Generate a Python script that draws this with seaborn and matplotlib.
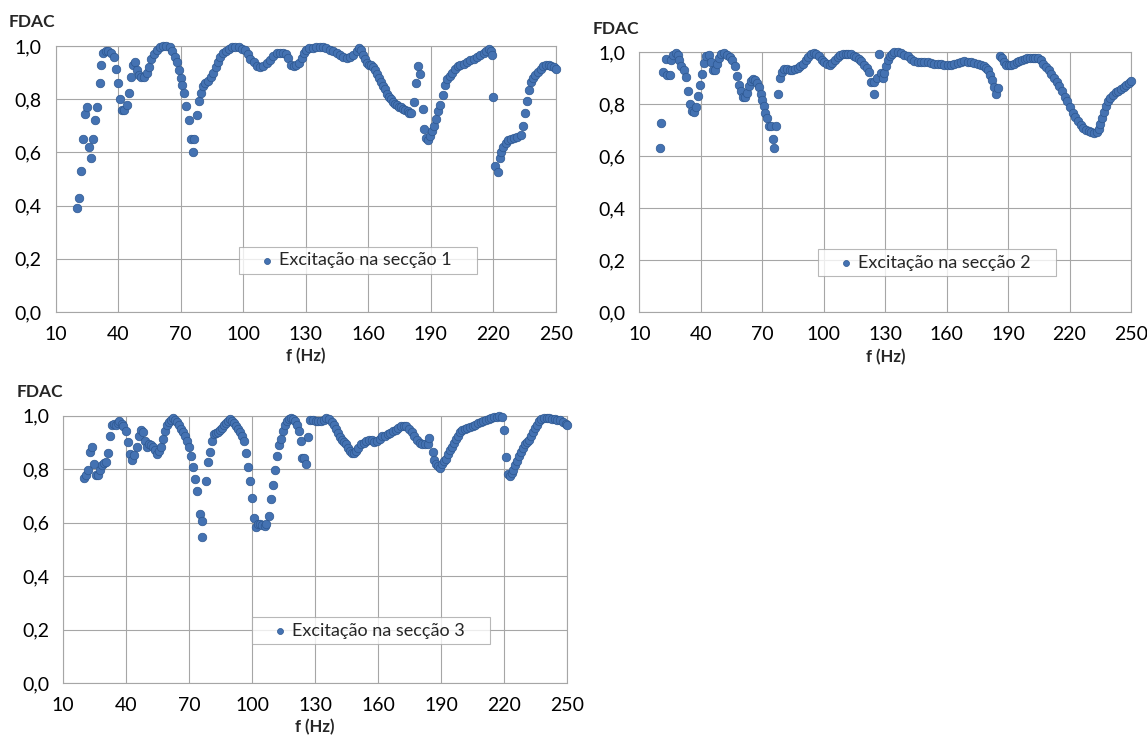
import matplotlib
matplotlib.use("Agg")
import matplotlib.pyplot as plt
from matplotlib.ticker import FuncFormatter, FixedLocator
import seaborn as sns
import pandas as pd

# ---------------- data ----------------
freq_s1 = [20.4, 21.2, 22.0, 23.2, 24.2, 25.2, 26.1, 27.2, 28.2, 29.1, 30.1, 31.1, 32.0, 33.0,
           34.0, 35.2, 36.5, 37.9, 39.0, 40.0, 41.0, 41.9, 43.0, 44.1, 45.1, 46.0, 47.0, 48.0,
           48.9, 49.9, 51.2, 52.4, 53.7, 54.7, 56.0, 57.2, 58.5, 60.0, 61.5, 63.1, 64.7, 66.0,
           67.1, 68.1, 69.0, 70.0, 70.8, 71.8, 72.7, 74.0, 74.8, 75.9, 76.4, 77.8, 78.9, 79.9,
           80.8, 81.8, 83.1, 84.4, 85.6, 86.9, 87.9, 89.1, 90.4, 91.7, 93.0, 94.6, 96.2, 97.8,
           99.4, 101.0, 102.2, 103.5, 105.1, 106.7, 108.0, 109.6, 111.2, 112.8, 114.4, 116.0,
           117.5, 119.1, 120.7, 121.7, 123.0, 124.2, 125.5, 126.8, 128.1, 129.4, 130.3,
           131.6, 133.5, 135.1, 136.7, 138.3, 139.9, 141.5, 143.2, 144.8, 146.4, 148.0, 149.6,
           151.2, 152.8, 154.4, 155.7, 156.6, 157.6, 158.6, 159.5, 160.5, 161.4, 162.4, 163.4,
           164.3, 165.3, 166.3, 167.2, 168.2, 169.1, 170.1, 171.1, 172.0, 173.0, 173.9, 174.9,
           175.9, 176.8, 177.8, 178.8, 179.7, 180.7, 182.0, 183.0, 183.9, 184.9, 186.0, 186.8,
           187.8, 188.7, 189.7, 190.6, 191.6, 192.6, 193.5, 194.5, 195.8, 196.7, 197.7, 199.0,
           200.3, 201.6, 202.8, 204.1, 205.7, 207.3, 208.9, 210.5, 212.1, 213.7, 215.4, 216.6,
           217.8, 218.6, 219.5, 219.8, 220.8, 222.1, 223.0, 223.8, 224.8, 225.9, 227.2, 228.5,
           229.8, 231.4, 233.0, 234.1, 235.1, 235.9, 237.0, 237.8, 238.8, 240.1, 241.3, 242.6,
           243.9, 245.2, 246.5, 247.7, 249.0, 250.0]
fdac_s1 = [0.39, 0.43, 0.53, 0.65, 0.745, 0.77, 0.62, 0.58, 0.65, 0.72, 0.77, 0.86, 0.93, 0.975,
           0.98, 0.98, 0.975, 0.96, 0.915, 0.86, 0.80, 0.76, 0.76, 0.78, 0.825, 0.885, 0.93, 0.94,
           0.91, 0.89, 0.885, 0.885, 0.90, 0.92, 0.95, 0.97, 0.985, 0.995, 1.0, 1.0, 0.995, 0.98,
           0.96, 0.94, 0.91, 0.88, 0.855, 0.825, 0.775, 0.72, 0.65, 0.60, 0.65, 0.74, 0.795, 0.825,
           0.848, 0.86, 0.87, 0.885, 0.90, 0.92, 0.94, 0.96, 0.973, 0.983, 0.99, 0.995, 0.998, 0.995,
           0.99, 0.985, 0.97, 0.95, 0.94, 0.925, 0.92, 0.925, 0.935, 0.948, 0.963, 0.973,
           0.975, 0.975, 0.97, 0.955, 0.93, 0.925, 0.93, 0.935, 0.955, 0.973, 0.985,
           0.993, 0.993, 0.995, 0.995, 0.995, 0.993, 0.986, 0.98, 0.974, 0.965, 0.958, 0.955,
           0.958, 0.968, 0.98, 0.993, 0.986, 0.968, 0.953, 0.936, 0.928, 0.928, 0.92, 0.91,
           0.896, 0.88, 0.865, 0.85, 0.838, 0.821, 0.809, 0.80, 0.79, 0.783, 0.778, 0.771,
           0.771, 0.765, 0.759, 0.755, 0.75, 0.75, 0.79, 0.86, 0.925, 0.895, 0.763, 0.688,
           0.653, 0.645, 0.66, 0.68, 0.70, 0.725, 0.754, 0.779, 0.816, 0.854, 0.875, 0.888,
           0.90, 0.913, 0.923, 0.93, 0.933, 0.94, 0.948, 0.95, 0.958, 0.965, 0.973, 0.983,
           0.988, 0.98, 0.966, 0.808, 0.55, 0.528, 0.58, 0.60, 0.62, 0.635, 0.645, 0.65,
           0.653, 0.658, 0.666, 0.70, 0.75, 0.795, 0.833, 0.863, 0.879, 0.89, 0.903, 0.915,
           0.925, 0.93, 0.929, 0.925, 0.92, 0.915]

freq_s2 = [19.8, 20.7, 21.7, 22.7, 23.3, 24.7, 25.6, 26.6, 27.6, 28.6, 29.5, 30.5, 31.5, 32.8,
           33.8, 34.7, 35.7, 36.7, 37.7, 38.7, 39.6, 40.6, 41.6, 42.6, 43.9, 44.8, 45.8, 46.8,
           47.8, 48.7, 50.0, 51.3, 52.7, 54.0, 55.3, 56.6, 57.5, 58.5, 59.5, 60.5, 61.4, 62.4,
           63.4, 64.4, 65.3, 66.3, 67.3, 68.3, 69.3, 69.9, 70.6, 71.2, 72.2, 73.2, 74.1, 75.1,
           75.8, 76.7, 77.7, 78.7, 79.7, 80.8, 82.0, 83.3, 84.6, 85.9, 87.2, 88.5, 89.8, 91.1,
           92.4, 93.7, 95.0, 96.3, 97.6, 98.9, 100.2, 101.5, 102.8, 104.1, 105.4, 106.7, 108.0,
           109.3, 110.6, 111.9, 113.2, 114.5, 115.8, 117.1, 118.4, 119.7, 121.0, 122.0, 123.0,
           124.3, 124.6, 125.9, 126.9, 127.9, 128.8, 129.6, 130.4, 131.2, 132.2, 133.1, 134.4,
           136.1, 137.7, 139.3, 141.0, 142.6, 144.2, 145.8, 147.5, 149.1, 150.7, 152.4, 154.0,
           155.6, 157.2, 158.9, 160.5, 162.1, 163.7, 165.4, 167.0, 168.6, 170.3, 171.9, 173.5,
           175.1, 176.8, 178.1, 179.4, 180.3, 181.3, 182.3, 183.3, 184.3, 185.2, 185.9, 186.9,
           187.8, 189.0, 190.3, 191.6, 192.9, 194.2, 195.5, 196.8, 198.1, 199.4, 200.7, 202.0,
           203.3, 204.6, 205.9, 207.2, 208.5, 209.8, 211.1, 212.4, 213.7, 215.0, 216.3, 217.6,
           218.9, 220.2, 221.5, 222.8, 224.1, 225.4, 226.7, 228.0, 229.3, 230.6, 231.9, 233.2,
           234.2, 235.0, 235.8, 236.7, 237.6, 238.6, 239.9, 241.2, 242.5, 243.8, 245.1, 246.4,
           247.7, 249.0, 250.0]
fdac_s2 = [0.631, 0.73, 0.923, 0.974, 0.914, 0.914, 0.972, 0.991, 0.997, 0.991, 0.969, 0.949,
           0.931, 0.905, 0.85, 0.80, 0.776, 0.772, 0.789, 0.833, 0.874, 0.918, 0.959, 0.987,
           0.991, 0.961, 0.931, 0.933, 0.956, 0.978, 0.995, 0.997, 0.991, 0.982, 0.972, 0.946,
           0.91, 0.875, 0.85, 0.83, 0.828, 0.843, 0.869, 0.888, 0.897, 0.895, 0.882, 0.866,
           0.84, 0.815, 0.792, 0.768, 0.747, 0.717, 0.717, 0.666, 0.631, 0.717, 0.84, 0.90,
           0.923, 0.936, 0.936, 0.931, 0.931, 0.936, 0.941, 0.949, 0.956, 0.969, 0.982, 0.992,
           0.997, 0.995, 0.985, 0.972, 0.961, 0.956, 0.952, 0.959, 0.972, 0.982, 0.99, 0.995,
           0.995, 0.995, 0.992, 0.987, 0.982, 0.974, 0.965, 0.952, 0.94, 0.923, 0.884, 0.884,
           0.84, 0.90, 0.995, 0.92, 0.90, 0.92, 0.946, 0.969, 0.985, 0.995, 1.0, 1.0, 0.997,
           0.991, 0.985, 0.974, 0.967, 0.964, 0.964, 0.961, 0.961, 0.959, 0.956, 0.956, 0.954,
           0.951, 0.951, 0.951, 0.954, 0.959, 0.964, 0.967, 0.964, 0.961, 0.959, 0.956, 0.952,
           0.949, 0.941, 0.931, 0.914, 0.892, 0.866, 0.84, 0.862, 0.985, 0.978, 0.961, 0.952,
           0.952, 0.952, 0.956, 0.961, 0.967, 0.972, 0.974, 0.978, 0.978, 0.979, 0.979, 0.977,
           0.969, 0.956, 0.943, 0.931, 0.918, 0.902, 0.884, 0.869, 0.851, 0.83, 0.811, 0.789,
           0.768, 0.75, 0.735, 0.72, 0.709, 0.702, 0.696, 0.694, 0.691, 0.694, 0.704, 0.725,
           0.748, 0.771, 0.794, 0.811, 0.824, 0.837, 0.846, 0.853, 0.859, 0.866, 0.875, 0.882,
           0.888]

freq_s3 = [20.1, 21.1, 22.0, 23.0, 23.9, 24.9, 25.8, 26.8, 27.7, 28.7, 29.6, 30.3, 31.2, 32.2,
           33.1, 34.1, 35.0, 36.0, 36.9, 37.9, 38.8, 40.1, 41.0, 42.0, 42.9, 43.9, 45.0, 46.1,
           47.1, 48.0, 49.0, 49.9, 50.9, 51.8, 52.8, 53.7, 54.7, 55.6, 56.9, 57.8, 58.8, 59.7,
           60.7, 61.6, 62.6, 63.5, 64.5, 65.4, 66.4, 67.3, 68.3, 69.2, 70.2, 71.1, 72.1, 73.0,
           74.0, 75.1, 76.0, 76.2, 78.1, 79.1, 80.0, 81.0, 81.9, 82.9, 83.8, 84.8, 85.7, 86.7,
           87.6, 88.6, 89.5, 90.5, 91.4, 92.4, 93.3, 94.3, 95.2, 96.2, 97.1, 98.1, 98.9, 100.0,
           100.9, 101.9, 102.8, 103.8, 104.7, 106.0, 106.9, 108.0, 109.1, 110.1, 111.0, 112.0,
           112.9, 113.9, 114.8, 115.8, 116.7, 117.7, 118.6, 119.6, 120.5, 121.5, 122.4, 123.4,
           124.0, 124.7, 125.9, 126.9, 127.8, 129.1, 130.4, 131.6, 132.9, 134.2, 135.4, 136.7,
           138.0, 138.9, 139.9, 140.8, 141.8, 142.7, 144.0, 144.9, 145.9, 146.8, 147.8, 148.7,
           149.7, 150.6, 151.9, 153.2, 154.4, 155.7, 157.0, 158.2, 159.5, 160.8, 162.0, 163.3,
           164.6, 165.8, 167.1, 168.4, 169.6, 170.9, 172.2, 173.4, 174.7, 176.0, 177.2, 178.5,
           179.8, 181.0, 182.3, 183.6, 184.5, 186.0, 186.8, 187.7, 188.6, 189.6, 190.5, 191.5,
           192.5, 193.4, 194.4, 195.3, 196.3, 197.2, 198.2, 199.1, 200.2, 201.3, 202.6, 203.9,
           205.1, 206.4, 207.7, 208.9, 210.2, 211.5, 212.7, 214.0, 215.3, 216.5, 217.8, 219.1,
           220.0, 221.0, 221.9, 222.9, 223.8, 224.4, 225.4, 226.3, 227.3, 228.2, 229.2, 230.1,
           231.1, 232.0, 233.0, 233.9, 234.9, 235.8, 236.8, 237.8, 239.0, 240.3, 241.6, 242.8,
           244.1, 245.4, 246.8, 248.2, 249.5, 250.0]
fdac_s3 = [0.768, 0.776, 0.795, 0.863, 0.882, 0.82, 0.776, 0.776, 0.795, 0.814, 0.822, 0.826,
           0.86, 0.922, 0.966, 0.969, 0.963, 0.971, 0.979, 0.969, 0.959, 0.942, 0.90, 0.855,
           0.832, 0.851, 0.884, 0.925, 0.947, 0.938, 0.904, 0.882, 0.892, 0.888, 0.882, 0.872,
           0.857, 0.867, 0.884, 0.913, 0.942, 0.963, 0.975, 0.984, 0.991, 0.984, 0.974, 0.963,
           0.95, 0.938, 0.922, 0.904, 0.882, 0.847, 0.807, 0.761, 0.718, 0.631, 0.547, 0.606,
           0.755, 0.826, 0.863, 0.904, 0.929, 0.934, 0.939, 0.947, 0.954, 0.963, 0.971, 0.981,
           0.988, 0.981, 0.971, 0.961, 0.949, 0.937, 0.924, 0.904, 0.86, 0.807, 0.755, 0.69,
           0.615, 0.584, 0.596, 0.594, 0.59, 0.586, 0.594, 0.624, 0.686, 0.739, 0.798, 0.85,
           0.888, 0.913, 0.942, 0.966, 0.979, 0.988, 0.991, 0.988, 0.979, 0.963, 0.942, 0.904,
           0.842, 0.842, 0.82, 0.919, 0.984, 0.984, 0.981, 0.979, 0.979, 0.984, 0.989, 0.986,
           0.975, 0.963, 0.95, 0.934, 0.919, 0.907, 0.901, 0.892, 0.88, 0.867, 0.86, 0.86,
           0.867, 0.88, 0.892, 0.897, 0.904, 0.909, 0.909, 0.901, 0.904, 0.913, 0.922, 0.925,
           0.929, 0.934, 0.942, 0.947, 0.954, 0.959, 0.961, 0.959, 0.95, 0.938, 0.922, 0.907,
           0.897, 0.894, 0.894, 0.892, 0.917, 0.863, 0.835, 0.82, 0.81, 0.805, 0.817, 0.83,
           0.839, 0.855, 0.87, 0.884, 0.897, 0.913, 0.925, 0.938, 0.947, 0.95, 0.954, 0.957,
           0.961, 0.966, 0.971, 0.975, 0.979, 0.984, 0.988, 0.991, 0.994, 0.996, 1.0, 0.996,
           0.944, 0.845, 0.783, 0.773, 0.785, 0.798, 0.814, 0.83, 0.847, 0.863, 0.88, 0.892,
           0.901, 0.909, 0.922, 0.938, 0.954, 0.966, 0.979, 0.988, 0.991, 0.991, 0.989, 0.988,
           0.986, 0.984, 0.982, 0.975, 0.968, 0.965]

legend_labels = ["Excitação na secção 1", "Excitação na secção 2", "Excitação na secção 3"]
x_ticks = [10, 40, 70, 100, 130, 160, 190, 220, 250]
y_ticks = [0.0, 0.2, 0.4, 0.6, 0.8, 1.0]
y_title = "FDAC"
x_title = "f (Hz)"

# ---------------- style ----------------
sns.set_theme(style="white")
plt.rcParams['font.family'] = ['Lato', 'DejaVu Sans']

W, H = 1147, 745
fig = plt.figure(figsize=(W / 100, H / 100), dpi=100)

def frac(l, r, t, b):
    return [l / W, 1 - b / H, (r - l) / W, (b - t) / H]

axes = [fig.add_axes(frac(55.5, 556.0, 46.0, 312.0)),
        fig.add_axes(frac(639.5, 1131.0, 52.3, 312.3)),
        fig.add_axes(frac(63.0, 567.0, 415.5, 683.0))]

# legend boxes (left fraction, centre-y fraction, width fraction)
legend_boxes = [(0.3666, 0.194, 0.4755), (0.363, 0.19, 0.484), (0.375, 0.195, 0.472)]

series = [(freq_s1, fdac_s1), (freq_s2, fdac_s2), (freq_s3, fdac_s3)]
grid_col = "#A6A6A6"
dot_col = "#4472B2"
edge_col = "#2D5790"

comma = FuncFormatter(lambda v, p: f"{v:.1f}".replace('.', ','))

for ax, (fx, fy), lab, lb in zip(axes, series, legend_labels, legend_boxes):
    df = pd.DataFrame({"f": fx, "FDAC": fy})
    sns.scatterplot(data=df, x="f", y="FDAC", ax=ax, color=dot_col, edgecolor=edge_col,
                    linewidth=0.5, s=38, label=lab, zorder=3, clip_on=False)
    ax.set_xlim(10, 250)
    ax.set_ylim(0, 1)
    ax.xaxis.set_major_locator(FixedLocator(x_ticks))
    ax.yaxis.set_major_locator(FixedLocator(y_ticks))
    ax.yaxis.set_major_formatter(comma)
    ax.grid(True, color=grid_col, linewidth=0.8)
    ax.set_axisbelow(True)
    for sp in ax.spines.values():
        sp.set_visible(True)
        sp.set_color(grid_col)
        sp.set_linewidth(0.8)
    ax.tick_params(axis='both', length=0, labelsize=14, colors="#000000")
    ax.tick_params(axis='y', pad=10)
    ax.tick_params(axis='x', pad=10)
    ax.set_ylabel("")
    ax.set_xlabel(x_title, fontsize=12, fontweight='bold', labelpad=4)
    ax.annotate(y_title, xy=(0, 1), xycoords='axes fraction', xytext=(0, 17),
                textcoords='offset points', ha='right', va='center',
                fontsize=12.5, fontweight='bold')
    leg = ax.legend(loc='center', bbox_to_anchor=(lb[0], lb[1], lb[2], 0), mode='expand',
                    frameon=True, fancybox=False, fontsize=13, handlelength=2.5,
                    handletextpad=-0.6, borderpad=0.3, markerscale=0.7, borderaxespad=0)
    leg.get_frame().set_edgecolor("#A6A6A6")
    leg.get_frame().set_linewidth(0.8)

fig.savefig("out.png", dpi=100, facecolor="white")
